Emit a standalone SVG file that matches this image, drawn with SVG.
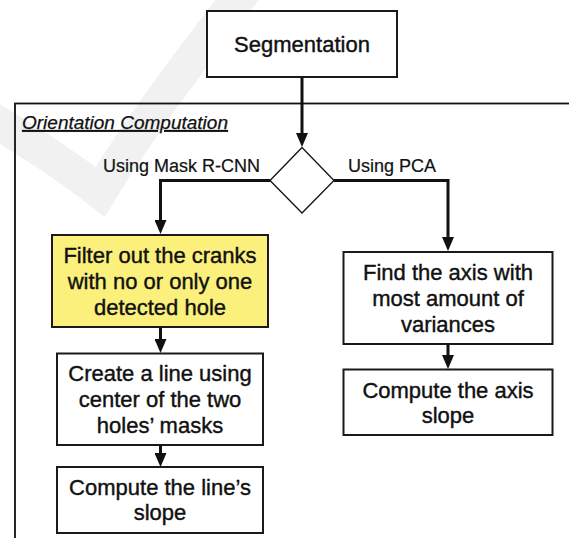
<svg xmlns="http://www.w3.org/2000/svg" width="569" height="538" viewBox="0 0 569 538">
  <defs>
    <marker id="arrow" viewBox="0 0 14 12" refX="6" refY="6" markerWidth="14" markerHeight="12" markerUnits="userSpaceOnUse" orient="auto">
      <path d="M0,0 L14,6 L0,12 Z" fill="#111"/>
    </marker>
    <style>
      .box { fill: #ffffff; stroke: #1a1a1a; stroke-width: 2; }
      .hl { fill: #fbf07c; }
      .label { font-family: "Liberation Sans", Arial, sans-serif; font-size: 22px; fill: #111; stroke: #111; stroke-width: 0.4; text-anchor: middle; }
      .branch { font-family: "Liberation Sans", Arial, sans-serif; font-size: 18px; fill: #111; stroke: #111; stroke-width: 0.2; }
      .title { font-family: "Liberation Sans", Arial, sans-serif; font-size: 19px; font-style: italic; fill: #111; stroke: #111; stroke-width: 0.25; text-decoration: underline; }
      .conn { fill: none; stroke: #111; stroke-width: 3; stroke-linejoin: miter; marker-end: url(#arrow); }
    </style>
  </defs>

  <rect width="569" height="538" fill="#ffffff"/>

  <!-- faint background swoosh -->
  <path d="M-10,118 Q60,160 100,192 Q150,110 245,-10" fill="none" stroke="#f1f1f1" stroke-width="34" stroke-linecap="round"/>

  <!-- container frame -->
  <g id="orientation-computation">
    <rect x="15" y="103.5" width="580" height="460" fill="none" stroke="#111" stroke-width="1.8"/>
    <text class="title" x="22" y="129">Orientation Computation</text>
  </g>

  <g id="segmentation">
    <rect class="box" x="207" y="11" width="190" height="66"/>
    <text class="label" x="302" y="52">Segmentation</text>
  </g>

  <g id="decision">
    <polygon points="302,147.5 334,180.5 302,213 270,180.5" fill="#ffffff" stroke="#111" stroke-width="1.3"/>
    <text class="branch" x="103" y="172">Using Mask R-CNN</text>
    <text class="branch" x="348" y="172">Using PCA</text>
  </g>

  <g id="filter-cranks">
    <rect class="box hl" x="52" y="235" width="216" height="92"/>
    <text class="label" x="160" y="263">Filter out the cranks</text>
    <text class="label" x="160" y="289">with no or only one</text>
    <text class="label" x="160" y="315">detected hole</text>
  </g>

  <g id="create-line">
    <rect class="box" x="57" y="353.5" width="206" height="91.5"/>
    <text class="label" x="160" y="381">Create a line using</text>
    <text class="label" x="160" y="407">center of the two</text>
    <text class="label" x="160" y="433">holes’ masks</text>
  </g>

  <g id="line-slope">
    <rect class="box" x="57" y="467" width="206" height="66"/>
    <text class="label" x="160" y="495">Compute the line’s</text>
    <text class="label" x="160" y="520">slope</text>
  </g>

  <g id="find-axis">
    <rect class="box" x="343.5" y="252" width="209" height="92"/>
    <text class="label" x="448" y="280">Find the axis with</text>
    <text class="label" x="448" y="306">most amount of</text>
    <text class="label" x="448" y="332">variances</text>
  </g>

  <g id="axis-slope">
    <rect class="box" x="343.5" y="369.5" width="209" height="65.5"/>
    <text class="label" x="448" y="398">Compute the axis</text>
    <text class="label" x="448" y="423">slope</text>
  </g>

  <g id="connectors">
    <path class="conn" d="M302,77 V139"/>
    <path class="conn" d="M270,180.5 H160.5 V226"/>
    <path class="conn" d="M334,180.5 H448 V243"/>
    <path class="conn" d="M160.5,327 V345"/>
    <path class="conn" d="M160.5,445 V459"/>
    <path class="conn" d="M448,344 V361"/>
  </g>
</svg>
